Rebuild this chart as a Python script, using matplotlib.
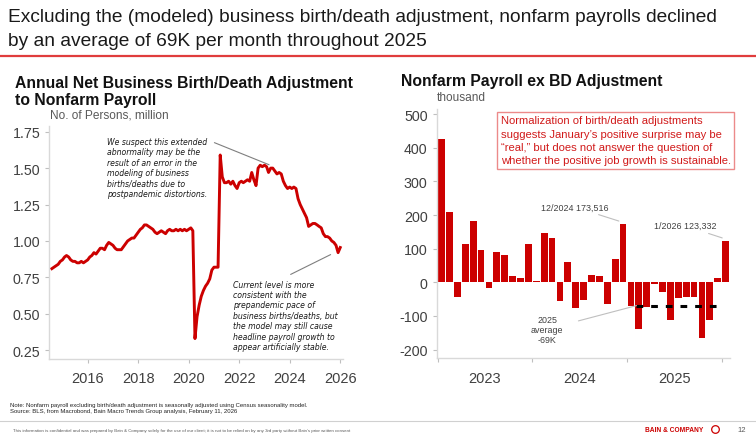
import matplotlib
matplotlib.use("Agg")
import matplotlib.pyplot as plt
from matplotlib.lines import Line2D
import numpy as np
import pandas as pd

plt.rcParams['font.family'] = ['Liberation Sans', 'DejaVu Sans']

# Annual net business birth/death adjustment (million persons), monthly from Aug 2014
bd_2014 = [0.81, 0.82, 0.83, 0.84, 0.86]
bd_2015 = [0.87, 0.89, 0.90, 0.89, 0.87, 0.86, 0.86, 0.85, 0.85, 0.86, 0.85, 0.86]
bd_2016 = [0.87, 0.89, 0.90, 0.92, 0.91, 0.93, 0.95, 0.95, 0.94, 0.97, 0.99, 0.98]
bd_2017 = [0.97, 0.95, 0.94, 0.94, 0.94, 0.96, 0.98, 1.00, 1.01, 1.02, 1.02, 1.04]
bd_2018 = [1.06, 1.08, 1.09, 1.11, 1.11, 1.10, 1.09, 1.08, 1.06, 1.05, 1.06, 1.07]
bd_2019 = [1.06, 1.05, 1.07, 1.08, 1.07, 1.07, 1.08, 1.07, 1.08, 1.07, 1.08, 1.07]
bd_2020 = [1.08, 1.09, 1.07, 0.33, 0.48, 0.56, 0.62, 0.66, 0.69, 0.71, 0.74, 0.80]
bd_2021 = [0.82, 0.82, 0.82, 1.59, 1.44, 1.40, 1.40, 1.41, 1.39, 1.41, 1.38, 1.36]
bd_2022 = [1.40, 1.41, 1.40, 1.41, 1.42, 1.41, 1.47, 1.42, 1.38, 1.50, 1.52, 1.51]
bd_2023 = [1.52, 1.51, 1.47, 1.50, 1.50, 1.48, 1.46, 1.47, 1.46, 1.41, 1.38, 1.36]
bd_2024 = [1.37, 1.36, 1.37, 1.36, 1.29, 1.25, 1.22, 1.19, 1.16, 1.10, 1.11, 1.12]
bd_2025 = [1.12, 1.11, 1.10, 1.09, 1.05, 1.03, 1.03, 1.02, 1.00, 0.99, 0.97, 0.92]
bd_2026 = [0.955]
bd_values = (bd_2014 + bd_2015 + bd_2016 + bd_2017 + bd_2018 + bd_2019 + bd_2020
             + bd_2021 + bd_2022 + bd_2023 + bd_2024 + bd_2025 + bd_2026)
bd_dates = pd.date_range("2014-08-01", periods=len(bd_values), freq="MS")
bd_years = [2016, 2018, 2020, 2022, 2024, 2026]

# Nonfarm payroll ex birth/death adjustment (thousand), Jan 2023 - Jan 2026
nfp_2023 = [425, 208, -45, 113, 181, 95, -18, 91, 82, 19, 14, 115]
nfp_2024 = [3, 146, 133, -57, 61, -77, -54, 23, 20, -63, 69, 173.516]
nfp_2025 = [-71, -139, -74, -4, -30, -112, -46, -45, -45, -165, -112, 12]
nfp_2026 = [123.332]
nfp = nfp_2023 + nfp_2024 + nfp_2025 + nfp_2026
nfp_months = pd.date_range("2023-01-01", periods=len(nfp), freq="MS")
nfp_years = ["2023", "2024", "2025"]

RED = "#cc0000"
GRID = "#d9d9d9"
TXT = "#404040"

fig = plt.figure(figsize=(7.56, 4.39), dpi=100, facecolor="white")

# ---- headline
fig.text(0.011, 0.979, "Excluding the (modeled) business birth/death adjustment, nonfarm payrolls declined\n"
         "by an average of 69K per month throughout 2025",
         fontsize=13.8, color="#1a1a1a", va="top", ha="left", linespacing=1.55)
fig.add_artist(Line2D([0, 1], [1 - 57 / 439] * 2, color="#e03c3c", lw=1.6,
                      transform=fig.transFigure))

# ---- left chart
ax1 = fig.add_axes([0.0652, 0.180, 0.3885, 0.531])
ax1.plot(bd_dates, bd_values, color=RED, lw=2.1)
ax1.set_ylim(0.19, 1.79)
ax1.set_xlim(pd.Timestamp("2014-06-25"), pd.Timestamp("2026-02-10"))
ax1.set_yticks([0.25, 0.50, 0.75, 1.00, 1.25, 1.50, 1.75])
ax1.set_yticklabels(["%.2f" % v for v in [0.25, 0.50, 0.75, 1.00, 1.25, 1.50, 1.75]])
ax1.set_xticks([pd.Timestamp(f"{y}-01-01") for y in bd_years])
ax1.set_xticklabels([str(y) for y in bd_years])

fig.text(0.020, 0.826, "Annual Net Business Birth/Death Adjustment\nto Nonfarm Payroll",
         fontsize=11.3, fontweight="bold", color="#111111", va="top", ha="left", linespacing=1.15)
fig.text(0.066, 0.738, "No. of Persons, million", fontsize=8.6, color="#595959", va="center", ha="left")

note_kw = dict(fontsize=5.6, style="italic", family="DejaVu Sans", color="#1a1a1a",
               va="top", ha="left", linespacing=1.2)
ax1.text(pd.Timestamp("2016-10-05"), 1.715,
         "We suspect this extended\nabnormality may be the\nresult of an error in the\n"
         "modeling of business\nbirths/deaths due to\npostpandemic distortions.", **note_kw)
ax1.annotate("", xy=(pd.Timestamp("2023-04-15"), 1.516), xytext=(pd.Timestamp("2020-12-01"), 1.682),
             arrowprops=dict(arrowstyle="-", color="#7f7f7f", lw=0.8))
ax1.text(pd.Timestamp("2021-10-10"), 0.735,
         "Current level is more\nconsistent with the\nprepandemic pace of\nbusiness births/deaths, but\n"
         "the model may still cause\nheadline payroll growth to\nappear artificially stable.", **note_kw)
ax1.annotate("", xy=(pd.Timestamp("2025-09-20"), 0.915), xytext=(pd.Timestamp("2023-12-10"), 0.762),
             arrowprops=dict(arrowstyle="-", color="#7f7f7f", lw=0.8))

# ---- right chart
ax2 = fig.add_axes([0.5777, 0.1822, 0.3882, 0.5672])
x = np.arange(len(nfp))
ax2.bar(x, nfp, width=0.86, color=RED, edgecolor="none")
ax2.set_xlim(-0.62, len(nfp) - 0.42)
ax2.set_ylim(-225, 515)
ax2.set_yticks([-200, -100, 0, 100, 200, 300, 400, 500])
ax2.set_yticklabels(["-200", "-100", "0", "100", "200", "300", "400", "500"])
jan_idx = [i for i, d in enumerate(nfp_months) if d.month == 1]
ax2.set_xticks([i - 0.5 for i in jan_idx])
ax2.set_xticklabels([])
ax2.set_xticks([i + 5.5 for i in jan_idx[:3]], minor=True)
ax2.set_xticklabels(nfp_years, minor=True)
ax2.tick_params(axis="x", which="minor", length=0, labelsize=10.5, colors=TXT, pad=9)

fig.text(0.531, 0.814, "Nonfarm Payroll ex BD Adjustment", fontsize=11.3, fontweight="bold",
         color="#111111", va="center", ha="left")
fig.text(0.578, 0.777, "thousand", fontsize=8.6, color="#595959", va="center", ha="left")

# 2025 average
yr25 = [i for i, d in enumerate(nfp_months) if d.year == 2025]
avg25 = np.mean([nfp[i] for i in yr25])
ax2.hlines(avg25, yr25[0] + 0.6, yr25[-1] - 0.1, colors="black", lw=2.2,
           linestyles=(0, (2.2, 2.6)), zorder=3)
ax2.annotate("2025\naverage\n%dK" % round(avg25), xy=(yr25[0] + 0.7, avg25), xytext=(13.4, -139),
             ha="center", va="center", fontsize=6.4, color=TXT, linespacing=1.15,
             arrowprops=dict(arrowstyle="-", color="#bfbfbf", lw=0.8, shrinkA=9, shrinkB=0))

lab_kw = dict(ha="right", va="center", fontsize=6.4, color=TXT,
              arrowprops=dict(arrowstyle="-", color="#bfbfbf", lw=0.8, shrinkA=1, shrinkB=2))
i_dec = len(nfp_2023) + len(nfp_2024) - 1
ax2.annotate("12/2024 {:,}".format(int(round(nfp[i_dec] * 1000))), xy=(i_dec - 0.2, nfp[i_dec] + 6),
             xytext=(21.1, 224), **lab_kw)
i_last = len(nfp) - 1
ax2.annotate("1/2026 {:,}".format(int(round(nfp[i_last] * 1000))), xy=(i_last - 0.1, nfp[i_last] + 6),
             xytext=(34.8, 168), **lab_kw)

fig.text(0.6625, 0.735,
         "Normalization of birth/death adjustments\nsuggests January\u2019s positive surprise may be\n"
         "\u201creal,\u201d but does not answer the question of\nwhether the positive job growth is sustainable.",
         fontsize=8.1, color="#d11a1a", va="top", ha="left", linespacing=1.42,
         bbox=dict(boxstyle="square,pad=0.3", fc="white", ec="#ec8a8a", lw=1.0))

for ax in (ax1, ax2):
    for s in ("top", "right"):
        ax.spines[s].set_visible(False)
    for s in ("left", "bottom"):
        ax.spines[s].set_color(GRID)
        ax.spines[s].set_linewidth(1.0)
    ax.tick_params(axis="both", which="major", colors="#bfbfbf", labelcolor=TXT,
                   length=3, width=0.8, labelsize=10.3)
ax1.tick_params(axis="x", pad=6, labelsize=10.5)

# ---- footer
fig.text(0.013, 1 - 408.7 / 439, "Note: Nonfarm payroll excluding birth/death adjustment is seasonally adjusted using Census seasonality model.\n"
         "Source: BLS, from Macrobond, Bain Macro Trends Group analysis, February 11, 2026",
         fontsize=4.3, color="#222222", va="center", ha="left", linespacing=1.25)
fig.add_artist(Line2D([0, 1], [1 - 422 / 439] * 2, color="#d0d0d0", lw=0.8, transform=fig.transFigure))
fig.text(0.017, 1 - 431 / 439,
         "This information is confidential and was prepared by Bain & Company solely for the use of our client; "
         "it is not to be relied on by any 3rd party without Bain's prior written consent",
         fontsize=3.2, color="#595959", va="center", ha="left")
fig.text(0.853, 1 - 431 / 439, "BAIN & COMPANY", fontsize=4.8, fontweight="bold", color=RED,
         va="center", ha="left")
fig.add_artist(Line2D([0.946], [1 - 430 / 439], marker="o", ms=5.5, mfc="none", mec=RED, mew=0.9,
                      transform=fig.transFigure))
fig.text(0.981, 1 - 431 / 439, "12", fontsize=5.5, color="#595959", va="center", ha="center")

fig.savefig("out.png", dpi=100, facecolor="white")
